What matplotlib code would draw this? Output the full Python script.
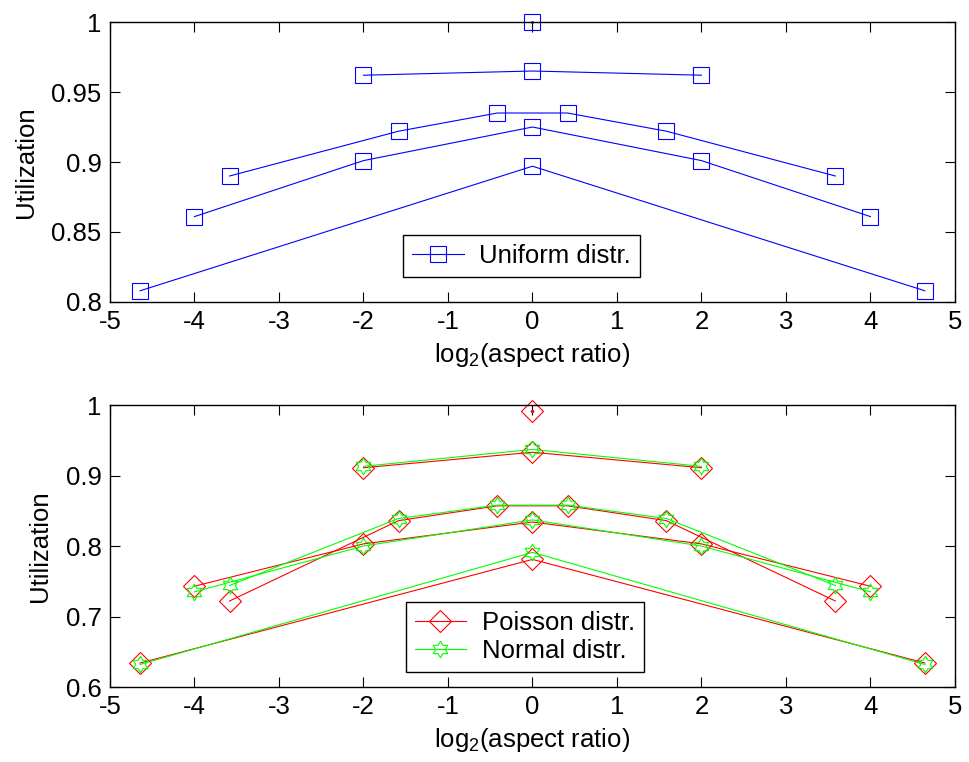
import numpy as np
import matplotlib
matplotlib.use("Agg")
import matplotlib.pyplot as plt

plt.rcParams['font.family'] = ['Liberation Sans', 'DejaVu Sans']
plt.rcParams['mathtext.default'] = 'regular'
plt.rcParams['axes.unicode_minus'] = False

# x positions: log2 of the aspect ratios of each grid family
x_a = [-4.644, 0, 4.644]
x_b = [-4, -2, 0, 2, 4]
x_c = [-3.585, -1.585, -0.415, 0.415, 1.585, 3.585]
x_d = [-2, 0, 2]
x_e = [0]

# uniform distribution
uni_a = [0.808, 0.897, 0.808]
uni_b = [0.861, 0.901, 0.925, 0.901, 0.861]
uni_c = [0.890, 0.922, 0.935, 0.935, 0.922, 0.890]
uni_d = [0.962, 0.965, 0.962]
uni_e = [1.0]

# poisson distribution
poi_a = [0.634, 0.781, 0.634]
poi_b = [0.743, 0.803, 0.834, 0.803, 0.743]
poi_c = [0.722, 0.836, 0.857, 0.857, 0.836, 0.722]
poi_d = [0.911, 0.933, 0.911]
poi_e = [0.991]

# normal distribution
nor_a = [0.632, 0.791, 0.632]
nor_b = [0.735, 0.800, 0.837, 0.800, 0.735]
nor_c = [0.744, 0.839, 0.858, 0.858, 0.839, 0.744]
nor_d = [0.913, 0.937, 0.913]

# MATLAB style hexagram marker
ang = np.deg2rad(90 + 30 * np.arange(12))
rad = np.where(np.arange(12) % 2 == 0, 1.0, 1 / np.sqrt(3))
hexagram = np.column_stack([rad * np.cos(ang), rad * np.sin(ang)])
hexagram = np.vstack([hexagram, hexagram[:1]])

fs = 18.5
fig = plt.figure(figsize=(9.69, 7.62), dpi=100)
ax1 = fig.add_axes([0.1135, 0.6037, 0.872, 0.3674])
ax2 = fig.add_axes([0.1135, 0.0984, 0.872, 0.3701])

sq = dict(color='blue', marker='s', mfc='none', ms=11.5, mew=0.8, lw=0.8, clip_on=False)
for i, (xs, ys) in enumerate([(x_a, uni_a), (x_b, uni_b), (x_c, uni_c), (x_d, uni_d), (x_e, uni_e)]):
    ax1.plot(xs, ys, label='Uniform distr.' if i == 0 else None, **sq)
ax1.plot(x_e, uni_e, '.', color='blue', ms=2, clip_on=False)

dm = dict(color='red', marker='D', mfc='none', ms=11.5, mew=0.8, lw=0.8, clip_on=False)
hx = dict(color='#00ff00', marker=hexagram, mfc='none', ms=12, mew=0.8, lw=0.8, clip_on=False)
for i, (xs, ys) in enumerate([(x_a, poi_a), (x_b, poi_b), (x_c, poi_c), (x_d, poi_d), (x_e, poi_e)]):
    ax2.plot(xs, ys, label='Poisson distr.' if i == 0 else None, **dm)
for i, (xs, ys) in enumerate([(x_a, nor_a), (x_b, nor_b), (x_c, nor_c), (x_d, nor_d)]):
    ax2.plot(xs, ys, label='Normal distr.' if i == 0 else None, **hx)
ax2.plot(x_e, poi_e, '.', color='red', ms=3, clip_on=False)

ax1.set_ylim(0.8, 1)
ax1.set_yticks([0.8, 0.85, 0.9, 0.95, 1])
ax1.set_yticklabels(['0.8', '0.85', '0.9', '0.95', '1'])
ax2.set_ylim(0.6, 1)
ax2.set_yticks([0.6, 0.7, 0.8, 0.9, 1])
ax2.set_yticklabels(['0.6', '0.7', '0.8', '0.9', '1'])

for ax in (ax1, ax2):
    ax.set_xlim(-5, 5)
    ax.set_xticks(range(-5, 6))
    ax.tick_params(direction='in', top=True, right=True, length=7, width=0.8,
                   labelsize=fs, pad=6)
    for s in ax.spines.values():
        s.set_linewidth(1.0)
    ax.set_xlabel('log$_2$(aspect ratio)', fontsize=fs, labelpad=5)
    ax.set_ylabel('Utilization', fontsize=fs, labelpad=10)

leg_kw = dict(fancybox=False, edgecolor='black', framealpha=1, fontsize=fs,
              loc='lower left', borderaxespad=0, handlelength=2.0,
              handletextpad=0.6, borderpad=0.35, labelspacing=0.15)
l1 = ax1.legend(bbox_to_anchor=(0.347, 0.089), **leg_kw)
l2 = ax2.legend(bbox_to_anchor=(0.350, 0.053), **leg_kw)
for l in (l1, l2):
    l.get_frame().set_linewidth(1.0)

fig.savefig('out.png', dpi=100)
